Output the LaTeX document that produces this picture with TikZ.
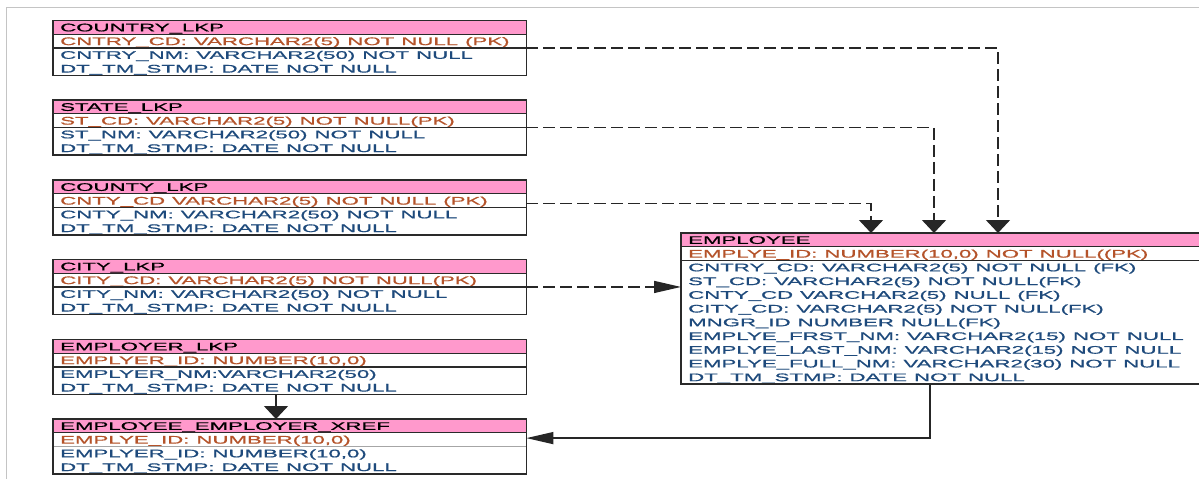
\documentclass[tikz,border=0pt]{standalone}
\usepackage{fontspec}
\usetikzlibrary{arrows.meta}
\newfontfamily\erfont[FakeStretch=2.02,FakeBold=1]{Liberation Sans}
\definecolor{hdrpink}{HTML}{FF99CC}
\definecolor{pktext}{HTML}{B5532A}
\definecolor{rowtext}{HTML}{1E4A7C}
\definecolor{framegray}{HTML}{C4C4C4}
\definecolor{boxline}{HTML}{2A2A2A}
\tikzset{
  cell/.style={anchor=north west, inner xsep=7pt, inner ysep=0pt, minimum height=13.33pt,
    text height=8pt, text depth=0pt, align=left,
    font=\erfont\fontsize{11}{13}\selectfont,
    execute at begin node={\spaceskip=7pt\xspaceskip=7pt\relax}},
  hdr/.style={cell, fill=hdrpink, text=black},
  pkrow/.style={cell, text=pktext},
  bodyrow/.style={cell, text=rowtext},
  border/.style={draw=boxline, line width=1.6pt},
  divider/.style={draw=boxline, line width=1.1pt},
  fkline/.style={draw=black!85, line width=1.4pt, dash pattern=on 12pt off 5pt},
  solidline/.style={draw=black!85, line width=1.4pt},
  downtip/.style={-{Triangle[width=24pt,length=13pt]}},
  lefttip/.style={-{Triangle[width=12pt,length=27pt]}}
}
% #1 name, #2 x, #3 y, #4 text width, #5 title, #6 pk, #7 rows, #8 divider colour
\newcommand\ertbl[8]{%
  \node[hdr, text width=#4] (#1-h) at (#2,#3) {#5};
  \node[pkrow, text width=#4] (#1-pk) at (#1-h.south west) {#6};
  \coordinate (#1-last) at (#1-pk.south west);
  \foreach \rowtxt [count=\i] in {#7} {
    \node[bodyrow, text width=#4] (#1-r\i) at (#1-last) {\rowtxt};
    \coordinate (#1-last) at (#1-r\i.south west);
  }
  \draw[divider] (#1-h.south west) -- (#1-h.south east);
  \draw[divider, draw=#8] (#1-pk.south west) -- (#1-pk.south east);
  \draw[border] (#1-h.north west) rectangle (#1-last -| #1-h.east);
}
\begin{document}
\begin{tikzpicture}[x=1pt, y=-1pt]
\useasboundingbox (0,0) rectangle (1199,479);
\clip (0,0) rectangle (1199,479);
\fill[white] (0,0) rectangle (1199,479);
\draw[framegray, line width=1pt] (1199,7) -- (6.5,7) -- (6.5,479);

\ertbl{country}{53}{20.5}{459pt}{COUNTRY\_LKP}{CNTRY\_CD: VARCHAR2(5) NOT NULL (PK)}%
  {{CNTRY\_NM: VARCHAR2(50) NOT NULL},{DT\_TM\_STMP: DATE NOT NULL}}{boxline}
\ertbl{state}{53}{100}{459pt}{STATE\_LKP}{ST\_CD: VARCHAR2(5) NOT NULL(PK)}%
  {{ST\_NM: VARCHAR2(50) NOT NULL},{DT\_TM\_STMP: DATE NOT NULL}}{boxline}
\ertbl{county}{53}{180}{459pt}{COUNTY\_LKP}{CNTY\_CD VARCHAR2(5) NOT NULL (PK)}%
  {{CNTY\_NM: VARCHAR2(50) NOT NULL},{DT\_TM\_STMP: DATE NOT NULL}}{boxline}
\ertbl{city}{53}{259.5}{459pt}{CITY\_LKP}{CITY\_CD: VARCHAR2(5) NOT NULL(PK)}%
  {{CITY\_NM: VARCHAR2(50) NOT NULL},{DT\_TM\_STMP: DATE NOT NULL}}{boxline}
\ertbl{employer}{53}{339.5}{459pt}{EMPLOYER\_LKP}{EMPLYER\_ID: NUMBER(10,0)}%
  {{EMPLYER\_NM:VARCHAR2(50)},{DT\_TM\_STMP: DATE NOT NULL}}{boxline}
\ertbl{xref}{53}{419}{459pt}{EMPLOYEE\_EMPLOYER\_XREF}{EMPLYE\_ID: NUMBER(10,0)}%
  {{EMPLYER\_ID: NUMBER(10,0)},{DT\_TM\_STMP: DATE NOT NULL}}{black!35}
\ertbl{emp}{681}{233}{516pt}{EMPLOYEE}{EMPLYE\_ID: NUMBER(10,0) NOT NULL((PK)}%
  {{CNTRY\_CD: VARCHAR2(5) NOT NULL (FK)},{ST\_CD: VARCHAR2(5) NOT NULL(FK)},{CNTY\_CD VARCHAR2(5) NULL (FK)},%
   {CITY\_CD: VARCHAR2(5) NOT NULL(FK)},{MNGR\_ID NUMBER NULL(FK)},{EMPLYE\_FRST\_NM: VARCHAR2(15) NOT NULL},%
   {EMPLYE\_LAST\_NM: VARCHAR2(15) NOT NULL},{EMPLYE\_FULL\_NM: VARCHAR2(30) NOT NULL},{DT\_TM\_STMP: DATE NOT NULL}}{boxline}

% foreign-key connectors
\draw[fkline, downtip] (country-pk.south east) -| ([xshift=317pt]emp-h.north west);
\draw[fkline, downtip] (state-pk.south east) -| ([xshift=253pt]emp-h.north west);
\draw[fkline, downtip] (county-pk.south east) ++(0,-4) -| ([xshift=190pt]emp-h.north west);
\draw[fkline, lefttip] (city-pk.south east) -- (city-pk.south east -| emp-h.west);
\draw[solidline, downtip] ([xshift=223pt]employer-r2.south west) -- ([xshift=223pt]xref-h.north west);
\draw[solidline, lefttip] ([xshift=249pt]emp-r9.south west) |- ([yshift=1.5pt]xref-pk.east);
\end{tikzpicture}
\end{document}
